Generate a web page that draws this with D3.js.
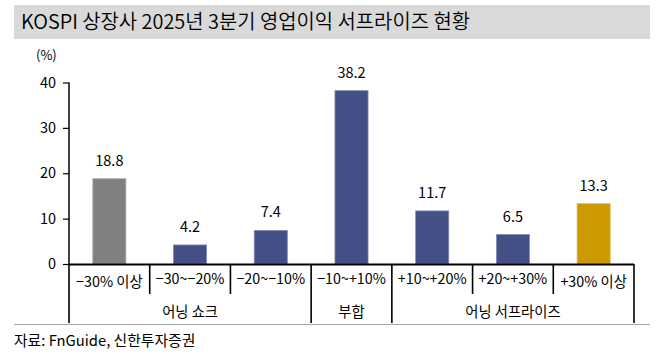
<!DOCTYPE html>
<html><head><meta charset="utf-8">
<script src="https://cdn.jsdelivr.net/npm/d3@7"></script>
<style>
html,body{margin:0;padding:0;background:#fff;}
text{font-family:"Noto Sans CJK KR","Noto Sans",sans-serif;fill:#000;}
</style></head>
<body>
<svg id="chart" width="664" height="357"></svg>
<script>
const titleText = "KOSPI 상장사 2025년 3분기 영업이익 서프라이즈 현황";
const unitLabel = "(%)";
const sourceText = "자료: FnGuide, 신한투자증권";
const categories = ["−30% 이상","−30~−20%","−20~−10%","−10~+10%","+10~+20%","+20~+30%","+30% 이상"];
const values = [18.8, 4.2, 7.4, 38.2, 11.7, 6.5, 13.3];
const barColors = ["#808080","#425086","#425086","#425086","#425086","#425086","#CC9900"];
const groupNames = ["어닝 쇼크","부합","어닝 서프라이즈"];
const groupSpans = [3, 1, 3];
const yTicks = [0, 10, 20, 30, 40];

const svg = d3.select("#chart");

// title bar
svg.append("rect").attr("x",14).attr("y",5).attr("width",636).attr("height",34).attr("fill","#d9d9d9");
const t = svg.append("text").attr("x",21).attr("y",29).attr("font-size",20).attr("font-weight",350).text(titleText);
t.attr("textLength",449).attr("lengthAdjust","spacingAndGlyphs");

const x = d3.scaleBand().domain(categories).range([69, 634]).paddingInner(0).paddingOuter(0);
const y = d3.scaleLinear().domain([0, 40]).range([264, 82.5]);

// y axis
const yAxis = svg.append("g").attr("transform","translate(69,0)")
  .call(d3.axisLeft(y).tickValues(yTicks).tickSize(6).tickPadding(7).tickFormat(d3.format("d")));
yAxis.select(".domain").attr("stroke","#000").attr("stroke-width",1.5).attr("d","M0,82.5V264");
yAxis.selectAll(".tick line").attr("stroke","#000").attr("stroke-width",1.2);
yAxis.selectAll(".tick text").attr("font-size",14.5).attr("fill","#000")
  .style("font-family",'"Noto Sans CJK KR","Noto Sans",sans-serif');

svg.append("text").attr("x",36).attr("y",60).attr("font-size",13).text(unitLabel);

// bars
const bw = x.bandwidth() * 0.41;
svg.selectAll("rect.bar").data(values).join("rect").attr("class","bar")
  .attr("x",(d,i)=>x(categories[i]) + (x.bandwidth()-bw)/2)
  .attr("y",d=>y(d)).attr("width",bw).attr("height",d=>y(0)-y(d))
  .attr("fill",(d,i)=>barColors[i])
  .attr("stroke",(d,i)=>d3.interpolateRgb(barColors[i],"#fff")(0.35)).attr("stroke-width",0.8);

svg.selectAll("text.val").data(values).join("text").attr("class","val")
  .attr("x",(d,i)=>x(categories[i]) + x.bandwidth()/2)
  .attr("y",d=>y(d)-13).attr("text-anchor","middle").attr("font-size",14.5)
  .text(d=>d3.format(".1f")(d));

// x axis line
svg.append("line").attr("x1",69).attr("x2",634).attr("y1",264.5).attr("y2",264.5).attr("stroke","#000").attr("stroke-width",1.8);

// category labels
svg.selectAll("text.cat").data(categories).join("text").attr("class","cat")
  .attr("x",d=>x(d)+x.bandwidth()/2)
  .attr("y",d=>/[가-힣]/.test(d)?287:284)
  .attr("text-anchor","middle").attr("font-size",14.3).text(d=>d);

// separators
const groupBounds = [0];
groupSpans.forEach(s=>groupBounds.push(groupBounds[groupBounds.length-1]+s));
for (let i=0;i<=categories.length;i++){
  const xx = i<categories.length ? x(categories[i]) : x.range()[1];
  const isGroup = groupBounds.includes(i);
  svg.append("line").attr("x1",xx).attr("x2",xx).attr("y1",264).attr("y2",isGroup?323:294)
    .attr("stroke","#000").attr("stroke-width",1.6);
}
// group labels
groupNames.forEach((g,k)=>{
  const a = x(categories[groupBounds[k]]);
  const b = groupBounds[k+1]<categories.length ? x(categories[groupBounds[k+1]]) : x.range()[1];
  svg.append("text").attr("x",(a+b)/2).attr("y",317).attr("text-anchor","middle").attr("font-size",14.3).text(g);
});

// bottom rule & source
svg.append("line").attr("x1",14).attr("x2",650).attr("y1",324.5).attr("y2",324.5).attr("stroke","#a6a6a6").attr("stroke-width",1);
svg.append("text").attr("x",14).attr("y",346).attr("font-size",14.8).text(sourceText);
</script>
</body></html>
